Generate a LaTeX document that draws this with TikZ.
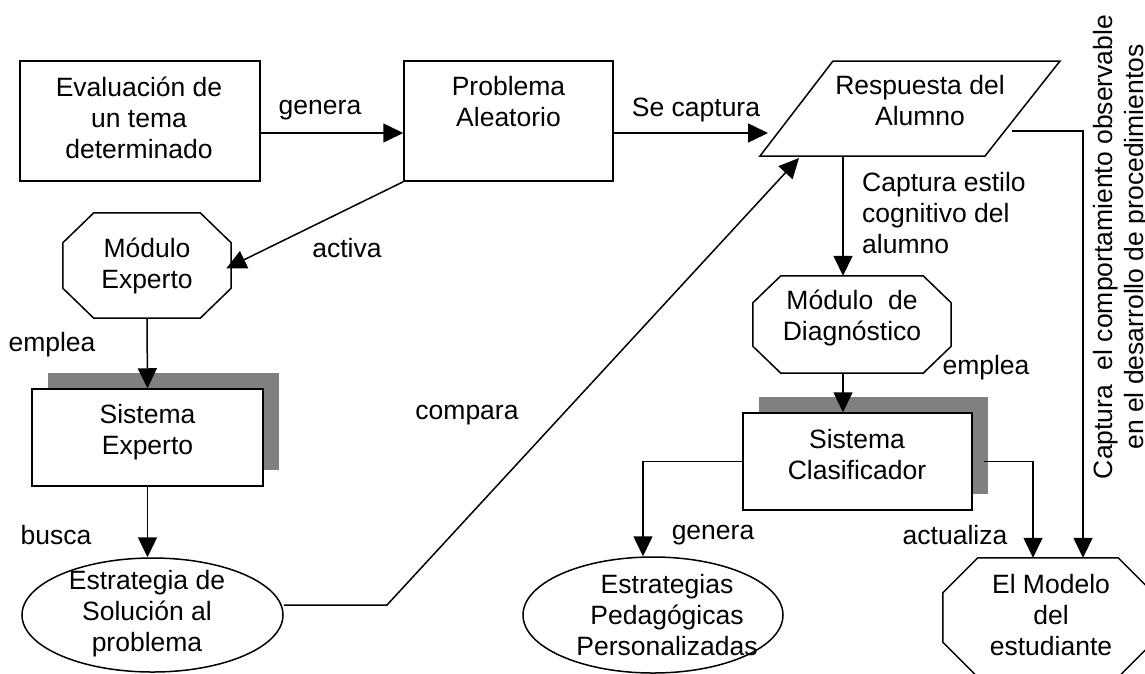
\documentclass[tikz,border=0pt]{standalone}
\usepackage{fontspec}
\setmainfont{Liberation Sans}
\usetikzlibrary{arrows.meta,shapes.geometric,shadows}
\definecolor{shadowgray}{HTML}{808080}
\newcommand\octagonpath[3]{%
  \draw[line] ([xshift=#2]#1.north west) -- ([xshift=-#2]#1.north east)
    -- ([yshift=-#3]#1.north east) -- ([yshift=#3]#1.south east)
    -- ([xshift=-#2]#1.south east) -- ([xshift=#2]#1.south west)
    -- ([yshift=#3]#1.south west) -- ([yshift=-#3]#1.north west) -- cycle;}
\begin{document}
\begin{tikzpicture}[x=1pt,y=-1pt,
  every node/.style={font=\fontsize{26.5pt}{31pt}\selectfont, inner sep=0pt, align=center},
  line/.style={line width=1.5pt, line join=miter},
  conn/.style={line width=1.5pt, -{Triangle[length=20pt,width=19pt]}},
  plain/.style={line width=1.5pt},
  boxnode/.style={draw, line width=1.5pt, fill=white, rectangle},
  shadowbox/.style={boxnode, drop shadow={shadow xshift=16pt, shadow yshift=16pt, fill=shadowgray, opacity=1}},
  octnode/.style={rectangle, draw=none},
  ellnode/.style={ellipse, draw, line width=1.5pt},
  lbl/.style={}
]
\useasboundingbox (0,0) rectangle (1145,673);

% boxes
\node[boxnode, minimum width=240pt, minimum height=120pt] (eval) at (140,121) {};
\node (evalt) at (139,118) {Evaluación de\\un tema\\determinado};
\node[boxnode, minimum width=209pt, minimum height=120pt] (prob) at (508.5,121) {};
\node (probt) at (508.5,102) {Problema\\Aleatorio};

% parallelogram
\coordinate (pA) at (760,156);
\coordinate (pB) at (985,156);
\coordinate (pC) at (1060,61);
\coordinate (pD) at (833,61);
\draw[line] (pA) -- (pB) -- (pC) -- (pD) -- cycle;
\node (resp) at (920,101) {Respuesta del\\Alumno};
\coordinate (rin) at (768,133);
\coordinate (rout) at (1012,131);
\coordinate (capS) at (843,156);
\coordinate (cmpEnd) at (799,158);
\coordinate (cmpBend) at (387,605);

% octagons
\node[octnode, minimum width=168pt, minimum height=105pt] (mexp) at (147,265.5) {Módulo\\Experto};
\octagonpath{mexp}{31pt}{30pt}
\node[octnode, minimum width=198pt, minimum height=97pt] (mdiag) at (852,324.5) {};
\octagonpath{mdiag}{28pt}{27pt}
\node (mdiagt) at (852,318) {Módulo~~de\\Diagnóstico};
\node[octnode, minimum width=210pt, minimum height=119pt] (mod) at (1048,617.5) {};
\octagonpath{mod}{35pt}{35pt}
\node (modt) at (1051,615) {El Modelo\\del\\estudiante};

% shadowed boxes
\node[shadowbox, minimum width=231pt, minimum height=97pt] (sexp) at (147.5,437.5) {};
\node (sexpt) at (147.5,432) {Sistema\\Experto};
\node[shadowbox, minimum width=229pt, minimum height=97pt] (scl) at (857.5,461.5) {};
\node (sclt) at (857,455) {Sistema\\Clasificador};

% ellipses
\node[ellnode, minimum width=261pt, minimum height=114pt] (estr) at (152.5,615) {};
\node (estrt) at (147,614) {Estrategia de\\Solución al\\problema};
\node[ellnode, minimum width=260pt, minimum height=116pt] (epers) at (653,615) {};
\node (eperst) at (667,615) {Estrategias\\Pedagógicas\\Personalizadas};

% connectors
\draw[conn] ([yshift=-12pt]eval.east) -- ([yshift=-12pt]prob.west);
\draw[conn] ([yshift=-12pt]prob.east) -- (rin);
\draw[conn] (prob.south west) -- ([xshift=-5pt,yshift=-3pt]mexp.east);
\draw[conn] (mexp.south) -- (sexp.north);
\draw[conn] (sexp.south) -- (sexp.south |- estr.north);
\draw[conn] ([yshift=10pt]estr.east) -- (cmpBend) -- (cmpEnd);
\draw[conn] (capS) -- (capS |- mdiag.north);
\draw[conn] (capS |- mdiag.south) -- (capS |- scl.north);
\draw[conn] (scl.west) -| ([xshift=-10pt]epers.north);
\draw[conn] ([xshift=11pt]scl.east) -| ([xshift=-15pt]mod.north);
\draw[conn] (rout) -| ([xshift=35pt]mod.north);

% labels
\node[lbl] (lgenera) at (320,110) {genera};
\node[lbl] (lsecap) at (696,110) {Se captura};
\node[lbl] (lactiva) at (347,248) {activa};
\node[lbl] (lemplea) at (52,345) {emplea};
\node[lbl] (lbusca) at (56,535) {busca};
\node[lbl] (lcompara) at (467,415) {compara};
\node[lbl, anchor=west, align=left] (lcapest) at (862,213) {Captura estilo\\cognitivo del\\alumno};
\node[lbl] (lemplea2) at (986,368) {emplea};
\node[lbl] (lgenera2) at (713,535) {genera};
\node[lbl] (lactualiza) at (955,535) {actualiza};
\node[lbl, rotate=90] (lcapcomp) at (1121,247) {Captura~~el comportamiento observable\\en el desarrollo de procedimientos};
\end{tikzpicture}
\end{document}
